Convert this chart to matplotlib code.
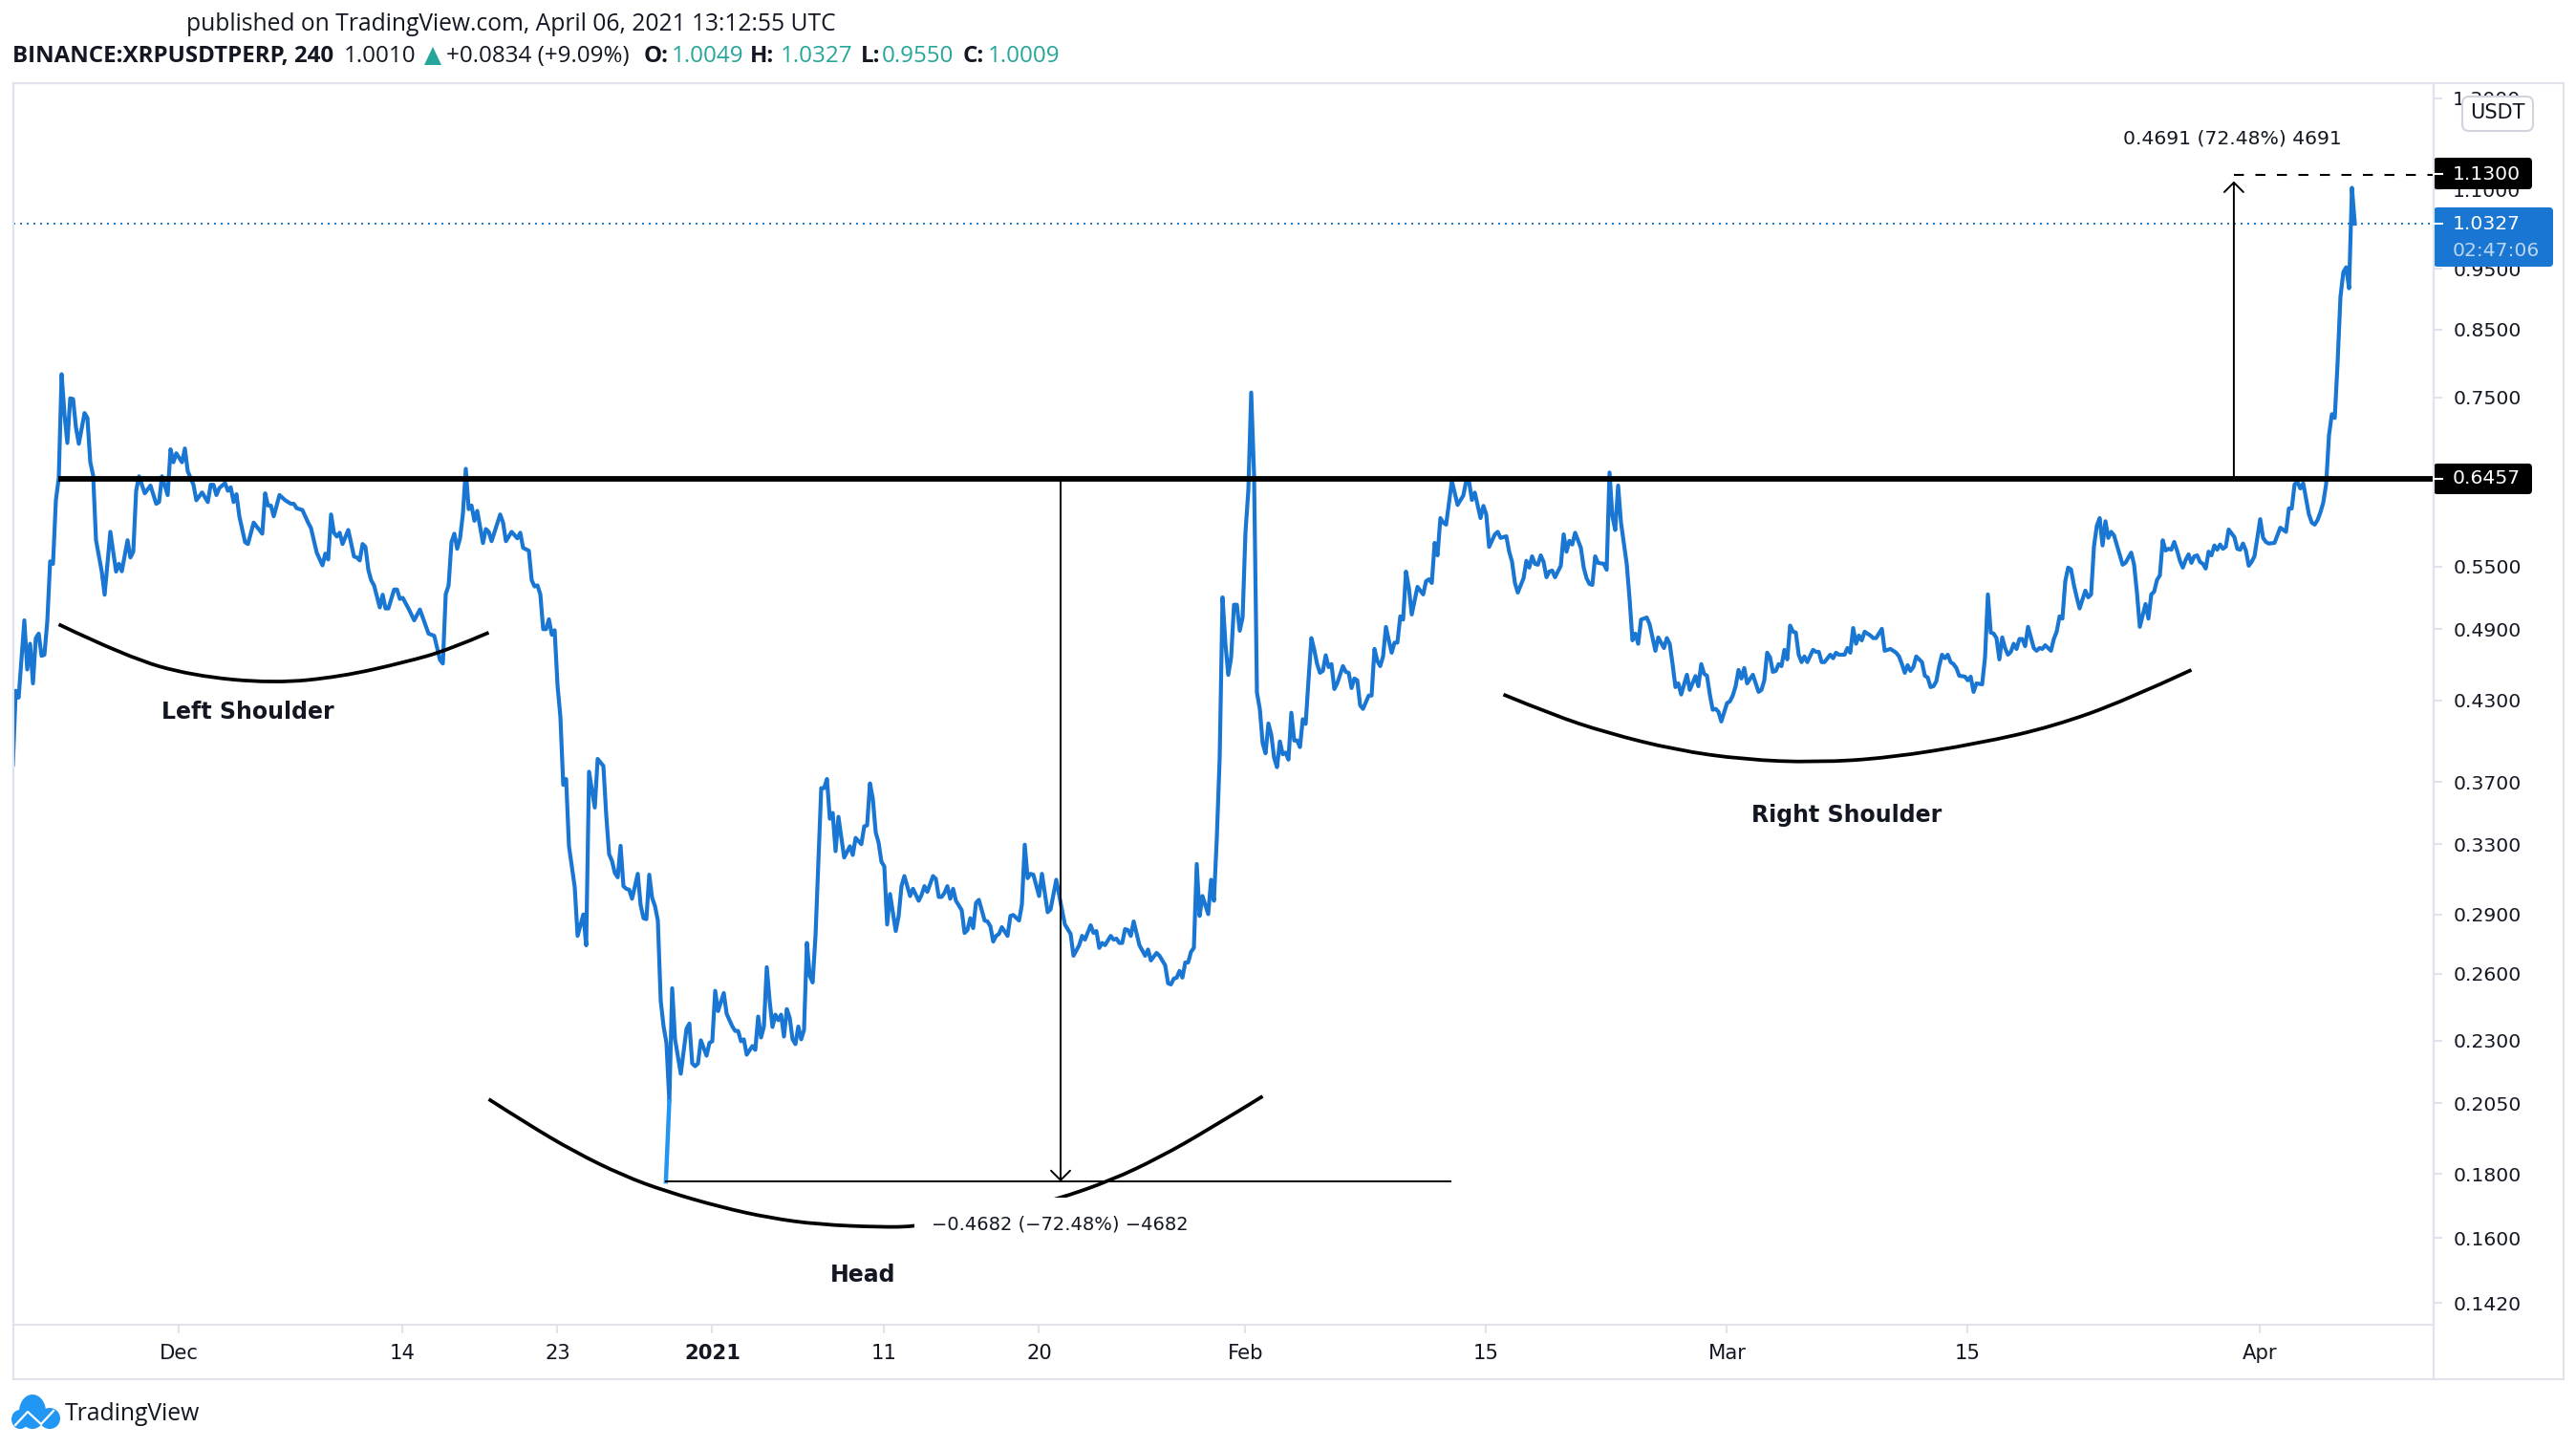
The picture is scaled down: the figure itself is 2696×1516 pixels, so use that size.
# -*- coding: utf-8 -*-
import matplotlib
matplotlib.use("Agg")
import matplotlib.pyplot as plt
from matplotlib.patches import Rectangle, FancyBboxPatch, Ellipse, Polygon, PathPatch
from matplotlib.path import Path

W, H = 2696, 1516
BLUE = '#1976d2'
FRAME = '#e0e3eb'
TXT = '#131722'
TEAL = '#26a69a'

# 4h bar number counted from 1 Dec 2020 00:00, close price
bars1 = [-58,-57,-56,-54,-53,-52,-51,-50,-49,-48,
         -47,-46,-45,-44,-43,-42,-41,-40,-39,-38,
         -37,-36,-35,-33,-32,-31,-30,-29,-27,-26,
         -24,-22,-21,-20,-18,-17,-16,-15,-14,-12,
         -10,-8,-7,-6,-4,-3,-2,-1,1,2,
         3,5,6,8,10,11,12,13,14,16,
         17,18,19,20,21,23,24,26,29,30,
         31,32,33,35,37,39,40,41,43,45,
         46,48,50,51,52,53,54,55,56,57,
         59,61,62,63,64,65,66,67,68,70,
         71,72,73,75,76,77,78,80,82,84,
         87,89,91,92,93,94,95,96,97,98,
         99,100,101,102,103,104,106,107,108,109,
         112,113,114,116,118,119,120,122,123,124,
         125,126,127,128,129,130,131,132,133,134]
close1 = [.382,.4375,.432,.498,.455,.477,.4435,.482,.486,.4665,
          .4675,.497,.555,.5525,.621,.647,.783,.7275,.690,.749,
          .748,.710,.689,.729,.7225,.666,.650,.577,.5447,.522,
          .586,.5447,.5525,.545,.577,.559,.565,.632,.649,.629,
          .638,.617,.619,.649,.627,.682,.666,.677,.666,.683,
          .655,.639,.621,.630,.619,.639,.639,.627,.635,.641,
          .632,.636,.619,.628,.603,.575,.573,.596,.584,.629,
          .615,.615,.603,.627,.621,.617,.617,.612,.610,.596,
          .590,.564,.551,.563,.557,.605,.585,.581,.585,.573,
          .588,.560,.559,.556,.573,.570,.5465,.536,.531,.510,
          .522,.509,.509,.527,.527,.518,.519,.509,.498,.508,
          .486,.484,.463,.460,.5225,.531,.575,.584,.568,.579,
          .606,.658,.611,.615,.598,.609,.574,.589,.586,.576,
          .605,.596,.576,.586,.579,.585,.569,.566,.536,.530,
          .531,.5225,.490,.490,.499,.485,.489,.442,.417,.368]

bars2 = [135,136,138,139,141,142,143,145,146,148,
         149,150,151,152,153,154,155,156,157,158,
         160,161,162,163,164,165,166,167,168,169,
         170,171,172,173,175,177,178,179,180,181,
         182,184,185,186,187,188,190,191,193,194,
         195,196,197,198,200,201,202,203,204,205,
         206,207,208,209,210,211,212,213,214,215,
         216,217,218,219,220,221,222,223,224,225,
         226,227,228,229,230,232,234,235,236,238,
         239,240,241,242,243,244,245,246,247,248,
         250,251,252,253,255,256,258,259,260,261,
         263,264,265,266,267,268,269,270,271,272,
         273,274,275,276,277,278,279,281,282,283,
         284,285,286,287,289,290,291,293,294,295,
         296,297,298,300,301,303,304,306,308,309,
         311,312,314,315,316,318,319,320,321,322,
         323,325,326,327,328,329,330,331,332,333,
         335,337,338,339,341,342,344,345,346,347,
         348,349,350,351,352,353,354,355,356,357,
         359,360,361]
close2 = [.372,.3287,.305,.2788,.290,.274,.377,.353,.386,.381,
          .348,.324,.320,.313,.3105,.329,.3055,.304,.3035,.2985,
          .3125,.295,.288,.2875,.312,.299,.2945,.2868,.2475,.236,
          .229,.2057,.2532,.2305,.2164,.235,.2373,.2205,.2194,.2205,
          .2301,.2237,.229,.2297,.252,.2428,.251,.2416,.236,.2341,
          .2341,.2297,.2305,.2241,.2277,.2261,.2404,.2313,.236,.2632,
          .2475,.2358,.2412,.2388,.2412,.2317,.2437,.2398,.2305,.2285,
          .236,.2305,.2345,.2752,.2591,.2559,.2788,.3187,.3658,.3658,
          .372,.3458,.3495,.3258,.347,.322,.3287,.3235,.3338,.330,
          .341,.3416,.369,.3587,.3373,.331,.3195,.3168,.2847,.3011,
          .2813,.2892,.3055,.3112,.3,.304,.2974,.3006,.3055,.3023,
          .3112,.3096,.2995,.2995,.3017,.3055,.2985,.304,.2974,.2948,
          .2923,.2803,.2818,.288,.2828,.2963,.2979,.2868,.2863,.2838,
          .2759,.2788,.2798,.2833,.2788,.2892,.2897,.2868,.2953,.3297,
          .31,.3125,.312,.3,.3125,.2912,.2927,.3091,.2923,.2847,
          .2798,.2688,.2741,.2788,.2769,.2843,.2803,.2813,.2727,.2752,
          .2741,.2788,.2769,.2774,.2752,.2752,.2823,.2818,.2788,.2863,
          .2741,.2688,.2719,.2665,.2702,.2688,.2641,.2555,.255,.2577,
          .2582,.2614,.2582,.2655,.2655,.2707,.2727,.3182,.2892,.3,
          .2902,.3091,.2974]

bars3 = [362,363,364,365,366,367,368,369,370,371,
         372,373,374,375,376,377,378,379,380,381,
         382,383,384,385,386,387,388,389,390,391,
         392,393,394,395,396,397,398,399,400,401,
         402,403,404,406,407,408,409,410,411,412,
         413,415,416,417,418,419,420,421,422,423,
         424,425,426,427,428,429,430,432,434,435,
         436,437,438,439,440,441,442,444,446,448,
         449,450,451,452,454,455,456,457,459,460,
         461,463,464,465,466,467,469,470,471,472,
         473,474,475,476,477,478,479,480,482,483,
         484,485,486,487,489,490,491,492,493,494,
         495,497,498,499,500,501,502,503,505,506,
         507,508,509,510,512,513,515,516,518,519,
         520,521,522,523,524,526,527,529,530,531,
         532,533,534,535,536,537,538,540,541,542,
         543,544,545,546,547,549,551,552,553,554,
         555,556,557,558,559,560,561,562,563,564,
         565,566,567,568,570]
close3 = [.3338,.3867,.5195,.477,.4505,.4653,.5125,.5125,.4886,.5006,
          .5855,.6325,.757,.6502,.436,.4232,.3972,.390,.412,.4036,
          .3867,.3802,.3986,.3893,.3905,.3855,.4202,.3993,.3993,.3945,
          .4152,.4117,.4467,.482,.4717,.4595,.4522,.4538,.467,.457,
          .4595,.4389,.4435,.4578,.453,.4522,.4397,.4475,.446,.426,
          .4232,.4337,.4337,.4725,.4622,.4578,.466,.492,.48,.4692,
          .478,.478,.5016,.4987,.5447,.5287,.5034,.5296,.5223,.5352,
          .537,.5334,.5742,.5612,.601,.596,.5938,.6435,.6157,.6265,
          .6435,.6425,.6213,.6298,.601,.6146,.6051,.57,.5832,.586,
          .5795,.5812,.565,.5545,.5334,.5241,.538,.5556,.5487,.5602,
          .5525,.5516,.5612,.5545,.5391,.5447,.5457,.5391,.5506,.5833,
          .565,.5764,.5725,.585,.569,.5487,.538,.5325,.5315,.5602,
          .5535,.5525,.5465,.6535,.603,.588,.638,.596,.5525,.518,
          .48,.486,.477,.4987,.5006,.4943,.4709,.4826,.4733,.482,
          .477,.4595,.4405,.4435,.4345,.4506,.4382,.4495,.4412,.4595,
          .4514,.4498,.4345,.4225,.4232,.421,.4135,.4277,.4291,.4337,
          .4412,.4546,.4475,.4562,.4435,.4506,.4366,.4382,.446,.4692,
          .4652,.453,.4538,.4595,.4578,.4717,.4635,.4932,.4878,.4869,
          .4675,.4612,.466,.4612,.4717]

bars4 = [571,572,573,574,576,577,578,579,581,582,
         583,584,585,586,587,588,590,591,592,594,
         595,597,599,600,601,602,603,604,605,606,
         608,609,610,611,612,613,614,615,616,617,
         618,619,620,621,623,624,625,626,627,629,
         630,631,632,633,634,635,636,637,638,639,
         640,641,642,643,644,645,646,647,648,649,
         650,651,653,654,655,656,657,658,659,660,
         661,662,663,665,666,667,668,669,670,671,
         672,673,674,675,678,679,681,682,683,684,
         686,687,688,689,690,691,692,693,694,695,
         696,697,698,699,700,701,702,703,704,705,
         706,707,708,709,710,711,712,713,714,715,
         717,718,719,720,721,722,723,724,725,726,
         727,728,729,731,733,735,736,737,738,739,
         740,741,742,743,744,745,746,747,748,749,
         750,751,752,753,754,755,756,757,758,759]
close4 = [.47,.47,.4612,.4612,.4675,.4645,.4692,.4675,.4675,.4733,
          .4692,.491,.477,.4843,.48,.4877,.4843,.482,.482,.4903,
          .4709,.4725,.4692,.466,.4595,.4522,.4586,.4538,.457,.466,
          .4612,.4498,.4483,.4405,.4412,.4451,.4578,.4675,.4645,.4675,
          .4612,.4595,.4562,.4498,.449,.446,.449,.4366,.4435,.4427,
          .4652,.5223,.4869,.486,.482,.4635,.4826,.4733,.4675,.47,
          .477,.4725,.4812,.4812,.4749,.4921,.4826,.4733,.4709,.4733,
          .4725,.4757,.4709,.4812,.4877,.5016,.4996,.5352,.5487,.5468,
          .5315,.5195,.509,.526,.5195,.5223,.5703,.5925,.601,.5715,
          .5975,.5795,.586,.5822,.5516,.5535,.564,.5516,.5241,.4921,
          .5132,.4996,.5223,.525,.5364,.541,.577,.5662,.568,.5671,
          .5752,.5662,.5556,.5487,.5565,.5622,.5535,.5602,.5612,.5545,
          .5525,.5477,.565,.5612,.5715,.5671,.5725,.568,.5703,.5885,
          .5803,.568,.5671,.5735,.5662,.5506,.5545,.5602,.5795,.5998,
          .5795,.5752,.5735,.5742,.5905,.586,.6117,.6117,.6396,.642,
          .6347,.6408,.6225,.6051,.596,.5938,.5988,.6073,.6183,.6396,
          .70,.7275,.7225,.80,.903,.9445,.953,.917,1.103,1.0327]

bars = bars1 + bars2 + bars3 + bars4
closes = close1 + close2 + close3 + close4

# hand drawn arcs
left_x = [-42,-18,4.5,33,56.5,79,94,108]
left_y = [.4943,.4653,.4498,.4435,.449,.4612,.4717,.4869]
head_x = [108,121,138,155,169.5,189,206,223,245,257,284,306,325,342,359,378]
head_y = [.2065,.1976,.1874,.1794,.1744,.1693,.166,.164,.1632,.1634,.1666,.1717,.1778,.1855,.1952,.2076]
right_x = [462,479,498,522,546,571,596.5,628,654,679,702]
right_y = [.4345,.4187,.405,.3924,.3855,.3835,.3867,.3972,.4099,.4298,.4546]

neck = 0.6457
low = 0.1775
target = 1.13
last = 1.0327

ytick_vals = [1.3,1.1,.95,.85,.75,.65,.55,.49,.43,.37,.33,.29,.26,.23,.205,.18,.16,.142]
xtick_pos = [0,78,132,186,246,300,372,456,540,624,726]
xtick_lab = ['Dec','14','23','2021','11','20','Feb','15','Mar','15','Apr']


def drawArc(ax,xs,ys):
    # read points are the bezier control points, so the stroke stays round
    verts = [(xs[0],ys[0])]
    codes = [Path.MOVETO]
    for i in range(1,len(xs)-1):
        verts.append((xs[i],ys[i]))
        codes.append(Path.CURVE3)
        if i < len(xs)-2:
            verts.append(((xs[i]+xs[i+1])/2,(ys[i]*ys[i+1])**0.5))
        else:
            verts.append((xs[i+1],ys[i+1]))
        codes.append(Path.CURVE3)
    ax.add_patch(PathPatch(Path(verts,codes),fc='none',ec='black',lw=2.7,zorder=4))


plt.rcParams['font.family'] = ['DejaVu Sans']

fig = plt.figure(figsize=(W/100,H/100),dpi=100,facecolor='white')

# main axes, from pixel box 14..2547 / 87..1386
ax = fig.add_axes([14/W,1-1386/H,(2547-14)/W,(1386-87)/H])
ax.set_yscale('log')
ax.set_xlim(-57.83,786.5)
ax.set_ylim(0.1364,1.337)
ax.minorticks_off()

ax.plot(bars,closes,color=BLUE,lw=3.0,solid_joinstyle='round',zorder=3)
ax.plot([169.8,171],[low,.2057],color='#2196f3',lw=3.2,zorder=3)
ax.axhline(last,color=BLUE,lw=1.4,ls=(0,(1,2.6)),zorder=2)

drawArc(ax,left_x,left_y)
drawArc(ax,head_x,head_y)
drawArc(ax,right_x,right_y)

ax.plot([-42.2,786.5],[neck,neck],color='black',lw=4.2,solid_capstyle='butt',zorder=5)
ax.plot([169.8,443.5],[low,low],color='black',lw=1.4,zorder=4)
ax.plot([716.8,786.5],[target,target],color='black',lw=1.5,ls=(0,(5,5.8)),zorder=4)

head = '->,head_length=0.4,head_width=0.4'
ax.annotate('',xy=(307.5,low),xytext=(307.5,neck),
            arrowprops=dict(arrowstyle=head,lw=1.4,color='black',mutation_scale=18,shrinkA=0,shrinkB=0),zorder=4)
ax.annotate('',xy=(716.8,target*0.988),xytext=(716.8,neck),
            arrowprops=dict(arrowstyle=head,lw=1.4,color='black',mutation_scale=18,shrinkA=0,shrinkB=0),zorder=4)

ax.set_yticks(ytick_vals,['%.4f' % v for v in ytick_vals])
ax.set_xticks(xtick_pos,xtick_lab)
ax.yaxis.tick_right()
ax.tick_params(axis='y',length=6.5,width=1.5,color=FRAME,labelcolor=TXT,labelsize=14.7,pad=8)
ax.tick_params(axis='x',length=6.5,width=1.5,color=FRAME,labelcolor=TXT,labelsize=15.2,pad=8)
ax.get_xticklabels()[3].set_fontweight('bold')
for s in ax.spines.values():
    s.set_color(FRAME)
    s.set_linewidth(1.5)

# overlay in pixel coordinates for the chart furniture
ov = fig.add_axes([0,0,1,1],zorder=5)
ov.set_xlim(0,W)
ov.set_ylim(H,0)
ov.axis('off')
ov.patch.set_alpha(0)

ov.add_patch(Rectangle((14,87),2669,1356,fill=False,ec=FRAME,lw=1.5))
ov.plot([2547,2547],[87,1443],color=FRAME,lw=1.5)

# price labels
ov.add_patch(FancyBboxPatch((2547,165),103,33,boxstyle='round,pad=0,rounding_size=4',fc='black',ec='none'))
ov.add_patch(FancyBboxPatch((2547,485),103,32,boxstyle='round,pad=0,rounding_size=4',fc='black',ec='none'))
ov.add_patch(FancyBboxPatch((2547,217),125,62,boxstyle='round,pad=0,rounding_size=4',fc=BLUE,ec='none'))
ov.plot([2547,2556],[182,182],color='white',lw=1.5)
ov.plot([2547,2556],[501,501],color='white',lw=1.5)
ov.plot([2547,2556],[234,234],color='white',lw=1.5)
ov.text(2567,182,'1.1300',color='white',fontsize=14.7,va='center')
ov.text(2567,501,'0.6457',color='white',fontsize=14.7,va='center')
ov.text(2567,234,'1.0327',color='white',fontsize=14.7,va='center')
ov.text(2567,262,'02:47:06',color='#bbd6f0',fontsize=14.7,va='center')

ov.add_patch(FancyBboxPatch((2577,101),74,36,boxstyle='round,pad=0,rounding_size=7',fc='white',ec='#d1d4dc',lw=1.5))
ov.text(2614,118,'USDT',color=TXT,fontsize=15,ha='center',va='center')

# drawing labels
ov.text(2336,145,'0.4691 (72.48%) 4691',color=TXT,fontsize=14.7,ha='center',va='center')
ov.text(1109,1281,'\u22120.4682 (\u221272.48%) \u22124682',color=TXT,fontsize=14,ha='center',va='center',
        bbox=dict(fc='white',ec='none',pad=13))
ov.text(259,745,'Left Shoulder',color=TXT,fontsize=17,fontweight='bold',ha='center',va='center')
ov.text(1933,853,'Right Shoulder',color=TXT,fontsize=17,fontweight='bold',ha='center',va='center')
ov.text(903,1334,'Head',color=TXT,fontsize=17,fontweight='bold',ha='center',va='center')

# header
hf = ['Open Sans','DejaVu Sans']
ov.text(195,26,'published on TradingView.com, April 06, 2021 13:12:55 UTC',color=TXT,fontsize=17.7,family=hf,va='center')
ov.text(13,59,'BINANCE:XRPUSDTPERP, 240',color=TXT,fontsize=17.4,family=hf,fontweight='bold',va='center')
ov.text(360,59,'1.0010',color=TXT,fontsize=17.4,family=hf,va='center')
ov.add_patch(Polygon([[444,68],[462,68],[453,49]],fc=TEAL,ec='none'))
ov.text(467,59,'+0.0834 (+9.09%)',color=TXT,fontsize=17.4,family=hf,va='center')
for lx,lab,vx,val in [(674,'O:',703,'1.0049'),(785,'H:',817,'1.0327'),(901,'L:',923,'0.9550'),(1008,'C:',1034,'1.0009')]:
    ov.text(lx,59,lab,color=TXT,fontsize=17.4,family=hf,fontweight='bold',va='center')
    ov.text(vx,59,val,color=TEAL,fontsize=17.4,family=hf,va='center')

# logo
LOGO = '#2196f3'
ov.add_patch(Ellipse((34,1477),28,36,fc=LOGO,ec='none'))
ov.add_patch(Ellipse((21,1485),18,20,fc=LOGO,ec='none'))
ov.add_patch(Ellipse((52,1484),22,22,fc=LOGO,ec='none'))
ov.plot([16,29,43,56],[1491,1477,1490,1476],color='white',lw=1.6)
ov.text(68,1480,'TradingView',color=TXT,fontsize=17.8,family=hf,va='center')

fig.savefig('out.png',dpi=100)
